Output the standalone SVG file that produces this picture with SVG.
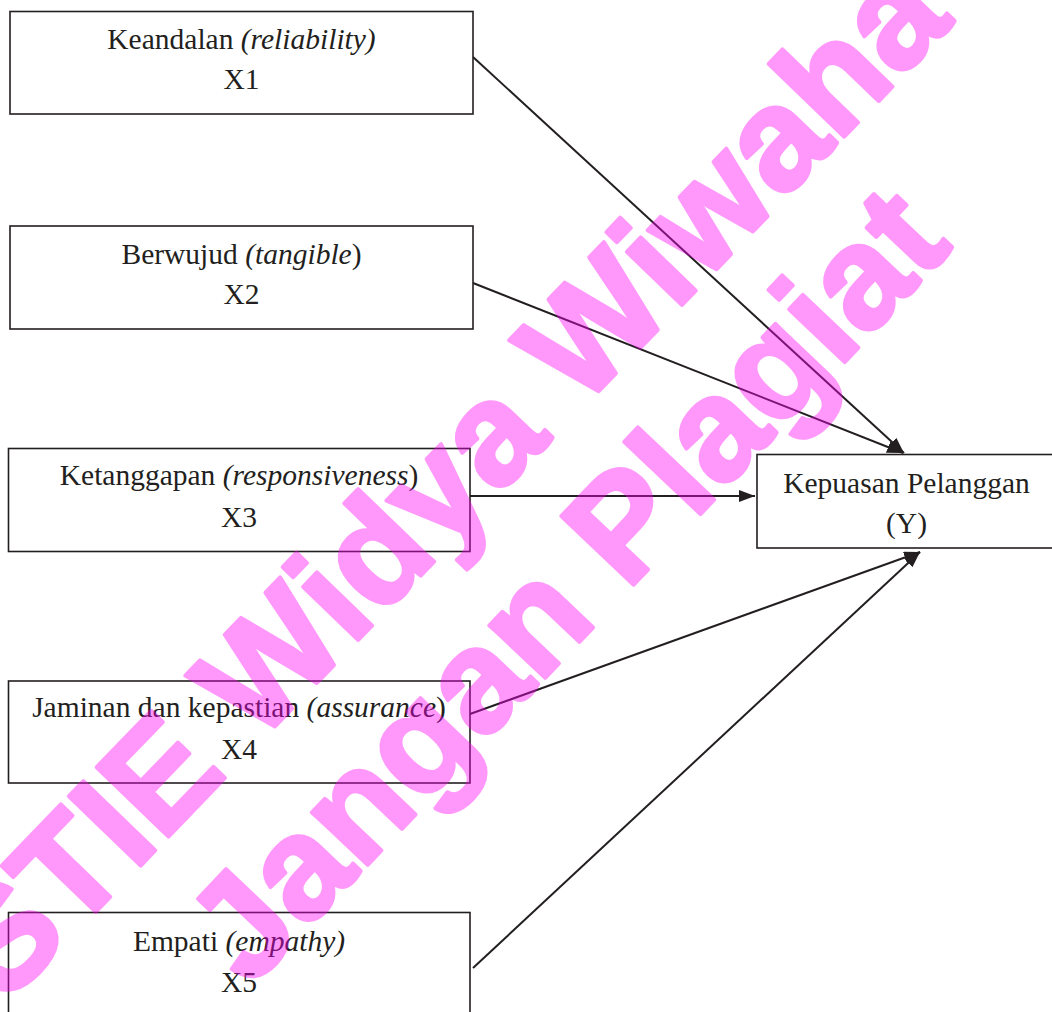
<svg xmlns="http://www.w3.org/2000/svg" width="1052" height="1012" viewBox="0 0 1052 1012">
<defs>
<marker id="arr" viewBox="0 0 16 12" refX="16" refY="6" markerWidth="16" markerHeight="12" markerUnits="userSpaceOnUse" orient="auto">
<path d="M0,0 L16,6 L0,12 Z" fill="#231f20"/>
</marker>
<style>
.box{fill:#fff;stroke:#231f20;stroke-width:1.6}
.t{font-family:"Liberation Serif","Times New Roman",serif;font-size:29.5px;fill:#231f20;text-anchor:middle}
.i{font-style:italic}
.c{stroke:#231f20;stroke-width:2;fill:none;marker-end:url(#arr)}
.wm{font-family:"Liberation Sans",Arial,sans-serif;font-weight:bold;font-size:145px;fill:#ff00f5;stroke:#ff00f5;stroke-width:4;stroke-linejoin:round;opacity:0.4;text-anchor:middle}
</style>
</defs>
<rect width="1052" height="1012" fill="#fff"/>
<g id="connectors">
<line class="c" x1="473" y1="57" x2="904" y2="453"/>
<line class="c" x1="473" y1="283" x2="903" y2="453"/>
<line class="c" x1="470" y1="496" x2="755" y2="496"/>
<line class="c" x1="470" y1="714" x2="920" y2="552"/>
<line class="c" x1="473" y1="968" x2="920" y2="552"/>
</g>
<g id="x1">
<rect class="box" x="10" y="11.5" width="463" height="102.5"/>
<text class="t" x="241.5" y="49">Keandalan <tspan class="i">(reliability)</tspan></text>
<text class="t" x="241.5" y="89">X1</text>
</g>
<g id="x2">
<rect class="box" x="10" y="226" width="463" height="103"/>
<text class="t" x="241.5" y="264">Berwujud <tspan class="i">(tangible</tspan>)</text>
<text class="t" x="241.5" y="304">X2</text>
</g>
<g id="x3">
<rect class="box" x="8.5" y="448.5" width="461.5" height="103"/>
<text class="t" x="239" y="485">Ketanggapan <tspan class="i">(responsiveness</tspan>)</text>
<text class="t" x="239" y="527">X3</text>
</g>
<g id="x4">
<rect class="box" x="8.5" y="681" width="461.5" height="102"/>
<text class="t" x="239" y="717">Jaminan dan kepastian <tspan class="i">(assurance</tspan>)</text>
<text class="t" x="239" y="759">X4</text>
</g>
<g id="x5">
<rect class="box" x="8.5" y="912.5" width="461.5" height="110"/>
<text class="t" x="239" y="951">Empati <tspan class="i">(empathy)</tspan></text>
<text class="t" x="239" y="992">X5</text>
</g>
<g id="y">
<rect class="box" x="757" y="454.5" width="310" height="93.5"/>
<text class="t" x="906.5" y="493">Kepuasan Pelanggan</text>
<text class="t" x="906.5" y="533">(Y)</text>
</g>
<g id="watermark">
<text class="wm" transform="translate(480,514) rotate(-46)">STIE Widya Wiwaha</text>
<text class="wm" transform="translate(602,618) rotate(-46.5)">Jangan Plagiat</text>
</g>
</svg>
